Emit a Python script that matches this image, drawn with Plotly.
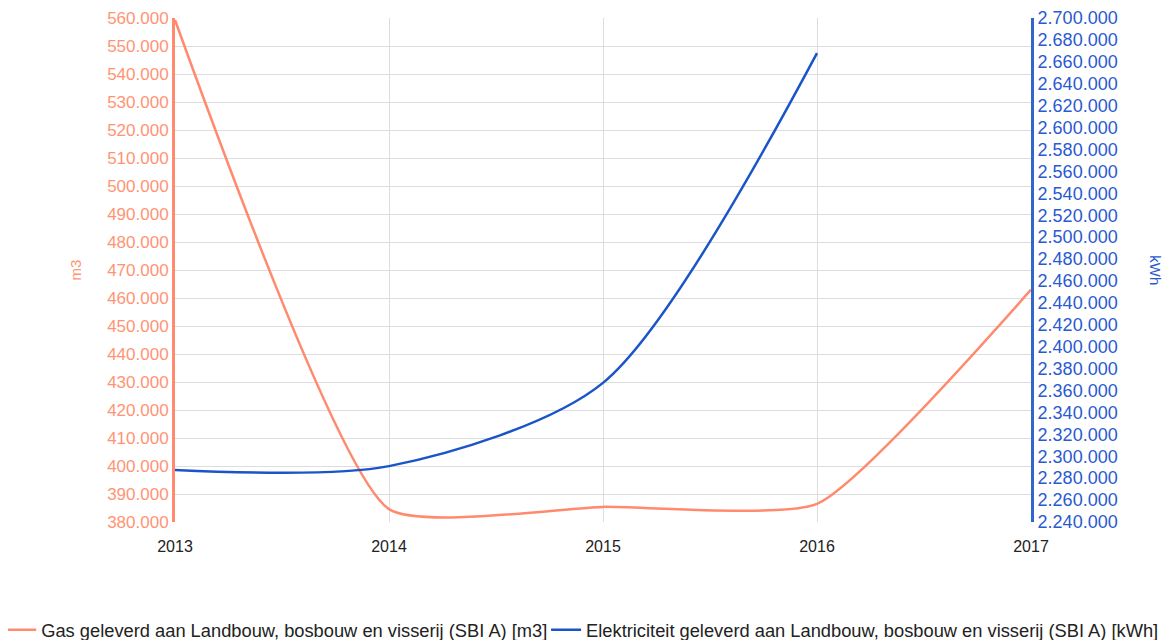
import plotly.graph_objects as go

years = [2013, 2014, 2015, 2016, 2017]
gas_m3 = [559300, 384600, 385400, 386500, 463000]
elec_years = [2013, 2014, 2015, 2016]
elec_kwh = [2287500, 2291000, 2367000, 2668000]

gas_name = "Gas geleverd aan Landbouw, bosbouw en visserij (SBI A) [m3]"
elec_name = "Elektriciteit geleverd aan Landbouw, bosbouw en visserij (SBI A) [kWh]"

salmon = "#ff8a6d"
salmon_txt = "#ff9475"
blue = "#1a55c8"
blue_axis = "#3366cc"
blue_txt = "#2a5ad0"
font = "Liberation Sans, Arial, sans-serif"

fig = go.Figure()
fig.add_trace(go.Scatter(x=years, y=gas_m3, name=gas_name, mode="lines",
                         line=dict(color=salmon, width=2.5, shape="spline", smoothing=0.5),
                         yaxis="y", legend="legend"))
fig.add_trace(go.Scatter(x=elec_years, y=elec_kwh, name=elec_name, mode="lines",
                         line=dict(color=blue, width=2.5, shape="spline", smoothing=0.8),
                         yaxis="y2", legend="legend2"))

legend_common = dict(orientation="h", xanchor="left", y=-0.214, yanchor="middle",
                     font=dict(size=18.3, color="#222"), itemwidth=30,
                     bgcolor="rgba(0,0,0,0)")

# page body has an 8px margin, so the figure is drawn 8px smaller and shifted
fig.update_layout(
    width=1164, height=632,
    margin=dict(l=167, r=141, t=10, b=118, autoexpand=False),
    paper_bgcolor="white", plot_bgcolor="white",
    separators=",.",
    font=dict(family=font, size=15, color="#222"),
    xaxis=dict(range=[2013, 2017], tickmode="array", tickvals=years,
               ticktext=[str(y) for y in years], showgrid=True, gridcolor="#dddddd",
               gridwidth=1, zeroline=False, showline=False,
               ticks="outside", ticklen=10, tickcolor="rgba(0,0,0,0)",
               automargin=False,
               tickfont=dict(size=16, color="#222")),
    yaxis=dict(range=[380000, 560000], dtick=10000, tick0=380000, tickformat=",d",
               showgrid=True, gridcolor="#dddddd", zeroline=False,
               showline=True, linecolor=salmon, linewidth=3, ticks="",
               automargin=False,
               tickfont=dict(size=17, color=salmon_txt),
               title=dict(text="m3", font=dict(size=15, color=salmon_txt), standoff=22)),
    yaxis2=dict(range=[2240000, 2700000], dtick=20000, tick0=2240000, tickformat=",d",
                overlaying="y", side="right", showgrid=False, zeroline=False,
                showline=True, linecolor=blue_axis, linewidth=3, ticks="",
                automargin=False,
                tickfont=dict(size=18, color=blue_txt)),
    legend=dict(x=-0.203, **legend_common),
    legend2=dict(x=0.4335, **legend_common),
    showlegend=True,
)

fig.add_annotation(text="kWh", xref="paper", yref="paper", x=1.158, y=0.5,
                   showarrow=False, textangle=90,
                   font=dict(size=15, color=blue_txt, family=font))

fig.write_html("out.html")
